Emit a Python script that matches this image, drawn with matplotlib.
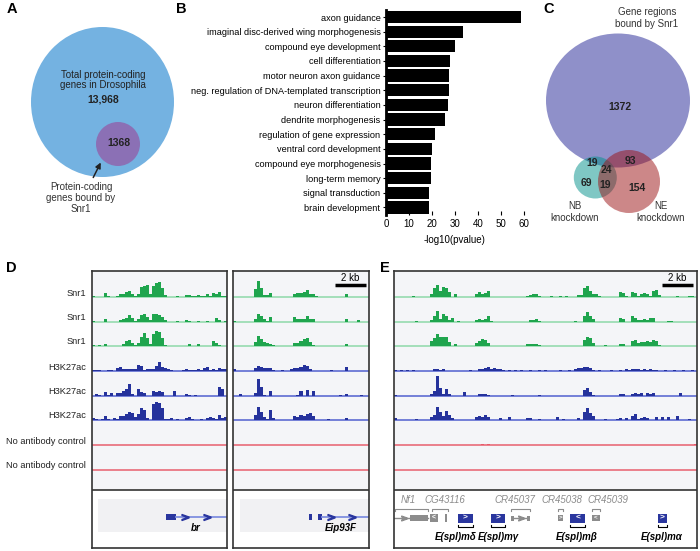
import numpy as np
import matplotlib.pyplot as plt
from matplotlib.patches import Ellipse, Rectangle

plt.rcParams['font.family'] = ['Liberation Sans', 'DejaVu Sans']

# ---- data -------------------------------------------------------------
total_genes = "13,968"
bound_genes = "1368"

go_terms = ["axon guidance", "imaginal disc-derived wing morphogenesis",
            "compound eye development", "cell differentiation",
            "motor neuron axon guidance",
            "neg. regulation of DNA-templated transcription",
            "neuron differentiation", "dendrite morphogenesis",
            "regulation of gene expression", "ventral cord development",
            "compound eye morphogenesis", "long-term memory",
            "signal transduction", "brain development"]
go_logp = [58.7, 33.3, 29.9, 27.8, 27.5, 27.4, 27.0, 25.5, 21.3, 19.9,
           19.6, 19.4, 18.8, 18.6]

venn_counts = {"snr1": "1372", "snr1_nb": "19", "all": "24", "snr1_ne": "93",
               "nb": "69", "nb_ne": "19", "ne": "154"}

track_names = ["Snr1", "Snr1", "Snr1", "H3K27ac", "H3K27ac", "H3K27ac",
               "No antibody control", "No antibody control"]

# coverage, 3 px bins (D panels: 45 bins, E panel: 101 bins)
d1_snr1_a = [1, 0, 0, 0, 4, 1, 0, 0, 1.5, 3, 3, 5, 6, 3, 1, 3, 10, 11, 12, 3, 11, 14, 15, 9, 2,
             0, 0, 0, 1.5, 0, 0, 2, 2, 1, 1, 2, 1, 1, 3, 1, 4, 3, 5, 1, 1]
d1_snr1_b = [1, 0, 0, 0, 3, 0, 0, 0, 0, 1.5, 2.5, 4, 7, 4, 1, 2.5, 7, 8, 5, 2, 8, 8, 7, 5, 1.5,
             0, 0, 0, 1, 0, 0, 1.5, 1, 0, 0, 1, 0, 0, 1, 0, 0, 4, 2, 0, 1]
d1_snr1_c = [1, 0, 1, 0, 2, 0, 0, 0, 0, 0, 2, 5, 6, 3, 1, 3, 9, 13, 8, 2, 12, 15, 14, 8, 1.5,
             0, 0, 0, 0, 0, 0, 0, 2, 0, 0, 2, 0, 0, 0, 0, 5, 3, 1.5, 0, 0]
d1_h3_a = [1, 1, 1, 0, 0, 1, 1, 0, 3, 4, 2, 2, 2, 2, 2.5, 6, 5, 1, 2, 2.5, 2, 5, 9, 4, 3,
           2, 1, 0, 0, 0, 1, 2, 1.5, 1.5, 1, 2, 1, 3, 4, 1, 2, 1, 3, 2, 2]
d1_h3_b = [0, 2, 1, 0, 4, 1, 3, 0, 3, 3, 5, 7, 12, 2, 0, 7, 4, 3, 0, 0, 5, 4, 5, 4, 0,
           0, 0, 5, 0, 0, 0, 2, 1, 0, 1, 0, 0, 0, 0, 0, 0, 0, 9, 7, 0]
d1_h3_c = [2, 1, 0, 1, 4, 1, 0, 2, 1, 4, 4, 6, 8, 7, 3, 6, 12, 10, 2, 0, 16, 18, 17, 12, 1,
           1, 2, 0, 1, 0, 0, 2, 3, 1, 0, 0, 1, 0, 2, 3, 2, 1, 5, 2, 3]

d2_snr1_a = [0, 0, 0, 0, 0, 0, 0, 8, 16, 9, 2, 2, 4, 0, 0, 0, 0, 0, 0, 0, 3, 4, 4, 5, 7,
             3, 3, 1, 0, 0, 0, 0, 0, 0, 0, 0, 0, 3, 0, 0, 0, 0, 0, 0, 0]
d2_snr1_b = [1, 0, 0, 0, 0, 0, 0, 3, 8, 6, 3, 1, 5, 0, 0, 0, 0, 0, 0, 0, 5, 3, 3, 3, 6,
             3, 3, 0, 0, 0, 0, 0, 0, 0, 0, 0, 0, 3, 0, 0, 0, 2, 0, 0, 0]
d2_snr1_c = [0, 0, 0, 0, 0, 0, 0, 4, 10, 7, 4, 3, 2, 1, 0, 0, 0, 0, 0, 0, 3, 3, 5, 7, 8,
             4, 1, 0, 0, 0, 0, 0, 0, 0, 0, 0, 0, 2, 0, 0, 0, 0, 0, 0, 0]
d2_h3_a = [2, 0, 0, 0, 0, 0, 0, 3, 5, 4, 3, 3, 3, 1, 0, 0, 1, 0, 0, 2, 3, 3, 4, 6, 5,
           2, 0, 0, 0, 0, 0, 0, 1, 0, 0, 0, 0, 4, 0, 0, 0, 0, 0, 0, 0]
d2_h3_b = [0, 0, 2, 0, 0, 0, 0, 3, 17, 9, 1, 0, 5, 0, 0, 0, 0, 0, 0, 0, 0, 1, 5, 0, 6,
           0, 5, 0, 0, 0, 0, 0, 0, 0, 0, 1, 0, 2, 0, 0, 0, 0, 1, 0, 0]
d2_h3_c = [0, 0, 0, 0, 0, 0, 0, 5, 13, 8, 3, 1, 10, 2, 0, 0, 0, 0, 0, 0, 4, 3, 5, 4, 6,
           7, 4, 0, 0, 0, 0, 1, 0, 0, 0, 0, 0, 2, 0, 0, 0, 0, 0, 0, 0]

# E panel as {bin: height}, other bins empty
e_snr1_a = {6: 1, 12: 3, 13: 9, 14: 12, 15: 6, 16: 10, 17: 9, 18: 5, 20: 3, 27: 3, 28: 5,
            29: 3, 30: 4, 31: 6, 44: 1, 45: 2, 46: 3, 47: 3, 48: 1, 52: 1, 55: 1, 57: 1,
            61: 2, 62: 2, 63: 9, 64: 11, 65: 6, 66: 3, 67: 3, 68: 1, 75: 5, 76: 4, 77: 1,
            79: 5, 80: 4, 81: 1, 82: 3, 83: 4, 84: 3, 85: 1, 86: 6, 87: 7, 88: 2, 94: 1,
            98: 1, 99: 1}
e_snr1_b = {7: 1, 12: 2, 13: 6, 14: 11, 15: 3, 16: 8, 17: 6, 18: 2, 19: 4, 21: 1, 27: 2,
            28: 3, 29: 2, 30: 3, 31: 6, 32: 1, 45: 2, 46: 2, 47: 3, 48: 1, 60: 1, 63: 6,
            64: 10, 65: 6, 66: 3, 75: 4, 76: 3, 79: 6, 80: 4, 81: 2, 82: 2, 83: 3, 84: 2,
            85: 4, 86: 4, 91: 1, 92: 1}
e_snr1_c = {12: 5, 13: 8, 14: 12, 15: 9, 16: 9, 17: 9, 18: 4, 20: 2, 27: 3, 28: 5, 29: 7,
            30: 6, 31: 3, 44: 2, 45: 2, 46: 2, 47: 2, 48: 1, 63: 6, 64: 9, 65: 8, 66: 3,
            70: 1, 75: 2, 76: 2, 79: 5, 80: 6, 81: 3, 82: 4, 83: 4, 84: 5, 85: 4, 86: 6,
            87: 5, 88: 1}
e_h3_a = {0: 1, 2: 1, 4: 1, 6: 1, 13: 2, 14: 2, 15: 1, 16: 2, 25: 1, 28: 2, 29: 2, 30: 3,
          31: 4, 32: 2, 33: 3, 34: 2, 35: 2, 36: 1, 38: 1, 40: 1, 42: 1, 45: 1, 48: 1,
          50: 1, 55: 1, 58: 1, 60: 2, 61: 3, 62: 3, 63: 4, 64: 4, 65: 3, 66: 1, 68: 1,
          72: 1, 75: 1, 77: 2, 78: 1, 79: 2, 80: 2, 81: 2, 82: 1, 83: 2, 84: 1, 85: 2,
          86: 1, 87: 1, 90: 1, 93: 1, 96: 1, 99: 1}
e_h3_b = {0: 1, 12: 2, 13: 5, 14: 20, 15: 8, 16: 2, 17: 7, 18: 2, 23: 4, 28: 2, 29: 2,
          30: 2, 31: 1, 39: 1, 48: 1, 63: 6, 64: 8, 65: 4, 66: 1, 75: 2, 76: 2, 79: 2,
          80: 3, 81: 2, 82: 3, 84: 3, 85: 2, 86: 3, 95: 3}
e_h3_c = {0: 2, 7: 1, 12: 3, 13: 5, 14: 13, 15: 8, 16: 4, 17: 9, 18: 5, 19: 2, 27: 3,
          28: 4, 29: 3, 30: 5, 31: 3, 35: 2, 38: 3, 44: 2, 45: 2, 48: 1, 54: 3, 56: 1,
          61: 2, 63: 8, 64: 12, 65: 7, 66: 4, 70: 1, 74: 1, 75: 2, 77: 2, 79: 4, 80: 6,
          81: 1, 82: 2, 83: 3, 84: 2, 87: 3, 89: 3, 91: 3, 94: 4, 98: 1}
e_ctrl_a = {29: 1, 31: 1, 100: 1}
e_ctrl_b = {}

# gene models (in bin units)
br_exons = [(24.7, 28.0)]
br_intron = (28.0, 45.0)
br_strand = [31.0, 38.3]
eip_exons = [(25.3, 26.3), (28.0, 29.3)]
eip_intron = (29.3, 45.0)
eip_strand = [32.3, 39.3]

e_gray_genes = ["Nf1", "CG43116", "CR45037", "CR45038", "CR45039"]
e_gray_label_x = [4.7, 17.0, 40.3, 56.0, 71.3]
e_gray_spans = [(0.3, 11.3), (12.7, 18.0), (39.0, 45.3), (54.7, 56.3), (66.0, 68.7)]
e_blue_genes = ["E(spl)mδ", "E(spl)mγ", "E(spl)mβ", "E(spl)mα"]
e_blue_spans = [(21.3, 26.3), (32.3, 37.0), (58.7, 63.7), (88.0, 91.0)]
e_blue_strand = [">", ">", "<", ">"]
e_blue_label_x = [20.7, 34.7, 61.0, 89.3]

# ---- figure -----------------------------------------------------------
W, H = 700, 551
fig = plt.figure(figsize=(7, 5.51), dpi=100)


def px_axes(x0, y0, x1, y1):
    return fig.add_axes([x0 / W, 1 - y1 / H, (x1 - x0) / W, (y1 - y0) / H])


ov = fig.add_axes([0, 0, 1, 1])
ov.set_xlim(0, W)
ov.set_ylim(H, 0)
ov.axis("off")

for lab, x, y in [("A", 12, 9), ("B", 181, 9), ("C", 549, 9), ("D", 11, 268), ("E", 385, 268)]:
    ov.text(x, y, lab, fontsize=10.5, fontweight="bold", ha="center", va="center")

# A: nested circles
ov.add_patch(Ellipse((102.5, 102), 143, 150, color="#74b2e1", lw=0))
ov.add_patch(Ellipse((118, 144), 44, 44, color="#8b70b5", lw=0))
ov.text(103, 80, "Total protein-coding\ngenes in Drosophila", fontsize=7, ha="center",
        va="center", color="#222", linespacing=1.1)
ov.text(103, 99, total_genes, fontsize=7.5, fontweight="bold", ha="center", va="center",
        color="#222")
ov.text(119, 143, bound_genes, fontsize=7.5, fontweight="bold", ha="center", va="center",
        color="#222")
ov.annotate("", xy=(102, 160), xytext=(92, 180),
            arrowprops=dict(arrowstyle="-|>", color="#222", lw=1.1, mutation_scale=8))
ov.text(81, 198, "Protein-coding\ngenes bound by\nSnr1", fontsize=7, ha="center",
        va="center", color="#333", linespacing=1.1)

# C: three-way Venn
ov.add_patch(Ellipse((618, 100.5), 144, 134, color="#8f90c9", lw=0))
ov.add_patch(Ellipse((595.3, 177.5), 43, 42, color="#00908a", alpha=0.5, lw=0))
ov.add_patch(Ellipse((629, 181.5), 62, 63, color="#9b1013", alpha=0.5, lw=0))
for key, x, y in [("snr1", 620, 107), ("snr1_nb", 592, 163), ("all", 606, 170),
                  ("snr1_ne", 630, 161), ("nb", 586, 183), ("nb_ne", 605, 185),
                  ("ne", 637, 188)]:
    ov.text(x, y, venn_counts[key], fontsize=7.5, fontweight="bold", ha="center",
            va="center", color="#222")
ov.text(647, 18, "Gene regions\nbound by Snr1", fontsize=7, ha="center", va="center",
        color="#333", linespacing=1.15)
ov.text(575, 212, "NB\nknockdown", fontsize=7, ha="center", va="center", color="#333",
        linespacing=1.15)
ov.text(661, 212, "NE\nknockdown", fontsize=7, ha="center", va="center", color="#333",
        linespacing=1.15)

# B: GO bar chart
axb = px_axes(386, 9.7, 524, 214.8)
ypos = np.arange(len(go_terms))
axb.barh(ypos, go_logp, height=0.84, color="black")
axb.set_ylim(len(go_terms) - 0.5, -0.5)
axb.set_xlim(0, 60)
axb.set_yticks(ypos)
axb.set_yticklabels(go_terms, fontsize=6.6)
axb.set_xticks([0, 10, 20, 30, 40, 50, 60])
axb.tick_params(axis="x", direction="in", length=3, labelsize=7, pad=3)
axb.tick_params(axis="y", length=2, pad=2)
for s in ["top", "right", "bottom"]:
    axb.spines[s].set_visible(False)
axb.spines["left"].set_linewidth(2)
axb.set_xlabel("-log10(pvalue)", fontsize=7, labelpad=4)

# D/E: browser tracks
baselines = [26, 50.5, 75, 100, 124.5, 149, 174, 199]
fill_cols = ["#1fa54e"] * 3 + ["#25329c"] * 3 + ["#e85a6a"] * 2
base_cols = ["#8ed9a9"] * 3 + ["#5060cf"] * 3 + ["#e8606e"] * 2
TRACK_H = 219
BOX_H = 277

for name, yb in zip(track_names, baselines):
    ov.text(86, 271 + yb - 4, name, fontsize=6.7, ha="right", va="center", color="#222")


def to_dense(d, n):
    v = np.zeros(n)
    for k, h in d.items():
        v[k] = h
    return v


def track_panel(box, tracks, scale_bar=None):
    x0, x1 = box
    n = len(tracks[0])
    ax = px_axes(x0, 271, x1, 548)
    ax.set_xlim(0, n)
    ax.set_ylim(BOX_H, 0)
    ax.set_xticks([])
    ax.set_yticks([])
    for s in ax.spines.values():
        s.set_color("#333")
        s.set_linewidth(1.2)
    ax.add_patch(Rectangle((0, 0), n, TRACK_H, color="#f4f5f8", lw=0, zorder=0))
    ax.axhline(TRACK_H, color="#333", lw=1.2)
    edges = np.arange(n + 1)
    for vals, yb, fc, bc in zip(tracks, baselines, fill_cols, base_cols):
        v = np.append(vals, vals[-1])
        ax.axhline(yb, color=bc, lw=1.1, zorder=1)
        ax.fill_between(edges, yb, yb - v, step="post", color=fc, lw=0, zorder=2)
    if scale_bar:
        ax.plot(scale_bar, [14, 14], color="black", lw=2.5, solid_capstyle="butt")
        ax.text(sum(scale_bar) / 2, 7, "2 kb", fontsize=7, ha="center", va="center")
    return ax


def simple_gene(ax, exons, intron, strand, label):
    n = ax.get_xlim()[1]
    ax.add_patch(Rectangle((0.8 * 2.7, 228), n - 2.2, 33, color="#f1f1f3", lw=0, zorder=0))
    ax.plot(intron, [246, 246], color="#7f8fe0", lw=1.3)
    for a, b in exons:
        ax.add_patch(Rectangle((a, 243), b - a, 6, color="#2a369e", lw=0))
    ax.plot(strand, [246, 246], ls="none", marker=r"$>$", ms=5, color="#2a369e")
    ax.text(np.mean(strand), 257, label, fontsize=7, fontstyle="italic",
            fontweight="bold", ha="center", va="center")


dl = track_panel((92, 227), [d1_snr1_a, d1_snr1_b, d1_snr1_c, d1_h3_a, d1_h3_b, d1_h3_c,
                             [0] * 45, [0] * 45])
simple_gene(dl, br_exons, br_intron, br_strand, "br")

dr = track_panel((233, 369), [d2_snr1_a, d2_snr1_b, d2_snr1_c, d2_h3_a, d2_h3_b, d2_h3_c,
                              [0] * 45, [0] * 45], scale_bar=(33.7, 44.0))
simple_gene(dr, eip_exons, eip_intron, eip_strand, "Eip93F")

e_tracks = [to_dense(d, 101) for d in
            [e_snr1_a, e_snr1_b, e_snr1_c, e_h3_a, e_h3_b, e_h3_c, e_ctrl_a, e_ctrl_b]]
ae = track_panel((394, 697), e_tracks, scale_bar=(89.3, 99.7))

gray = "#8c8c8c"
blue = "#2a369e"
gy = 247
# gray (non-coding / neighbouring) genes
ae.plot([0, 11.3], [gy, gy], color=gray, lw=1)
ae.plot([3.3], [gy], ls="none", marker=r"$>$", ms=4, color=gray)
ae.add_patch(Rectangle((5.3, gy - 3), 6.0, 6, color=gray, lw=0))
ae.add_patch(Rectangle((12.0, gy - 4), 2.7, 8, color=gray, lw=0))
ae.text(13.35, gy, "<", fontsize=5, color="white", fontweight="bold", ha="center", va="center")
ae.add_patch(Rectangle((17.0, gy - 4), 0.8, 8, color=gray, lw=0))
ae.plot([40.0, 44.3], [gy, gy], color=gray, lw=1)
ae.plot([42.2], [gy], ls="none", marker=r"$>$", ms=4, color=gray)
ae.add_patch(Rectangle((39.0, gy - 2.5), 1.0, 5, color=gray, lw=0))
ae.add_patch(Rectangle((44.3, gy - 2.5), 1.0, 5, color=gray, lw=0))
ae.add_patch(Rectangle((54.7, gy - 3), 1.6, 6, color=gray, lw=0))
ae.text(55.5, gy, ">", fontsize=4.5, color="white", fontweight="bold", ha="center", va="center")
ae.add_patch(Rectangle((66.0, gy - 3), 2.7, 6, color=gray, lw=0))
ae.text(67.35, gy, "<", fontsize=4.5, color="white", fontweight="bold", ha="center", va="center")
for (a, b) in e_gray_spans:
    ae.plot([a, a, b, b], [240, 238, 238, 240], color=gray, lw=0.8)
for name, x in zip(e_gray_genes, e_gray_label_x):
    ae.text(x, 229, name, fontsize=7, fontstyle="italic", color=gray, ha="center", va="center")

# E(spl) genes
for (a, b), s, name, x in zip(e_blue_spans, e_blue_strand, e_blue_genes, e_blue_label_x):
    ae.add_patch(Rectangle((a, gy - 4.5), b - a, 9, color=blue, lw=0))
    ae.text((a + b) / 2, gy, s, fontsize=6, color="white", fontweight="bold",
            ha="center", va="center")
    ae.plot([a, a, b, b], [254, 256, 256, 254], color="black", lw=0.8)
    ae.text(x, 266, name, fontsize=7, fontstyle="italic", fontweight="bold",
            ha="center", va="center")

fig.savefig("out.png", dpi=100)
